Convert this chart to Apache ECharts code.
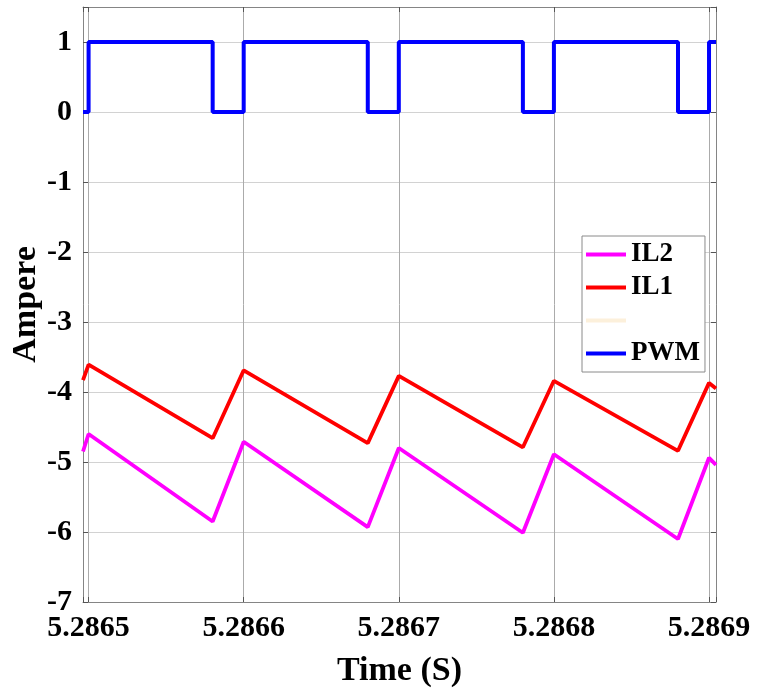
<!DOCTYPE html>
<html>
<head>
<meta charset="utf-8">
<script src="https://cdn.jsdelivr.net/npm/echarts@6/dist/echarts.min.js"></script>
<style>html,body{margin:0;padding:0;background:#fff}#c{width:757px;height:693px}</style>
</head>
<body>
<div id="c"></div>
<script>
// Time (s) at each corner of the waveforms
var timeS = [5.2864964, 5.2865, 5.28658, 5.2866, 5.28668, 5.2867, 5.28678, 5.2868, 5.28688, 5.2869, 5.2869045];
var il1 = [-3.83, -3.61, -4.66, -3.69, -4.73, -3.77, -4.79, -3.84, -4.84, -3.87, -3.95];
var il2 = [-4.85, -4.60, -5.85, -4.71, -5.93, -4.80, -6.01, -4.89, -6.10, -4.94, -5.04];
var pwm = [0, 1, 0, 1, 0, 1, 0, 1, 0, 1, 1];
var xMin = 5.2864964, xMax = 5.2869045;
var yMin = -7, yMax = 1.5, yStep = 1;
var seriesNames = ['IL2', 'IL1', ' ', 'PWM'];

function pairs(xs, ys) { return xs.map(function (x, i) { return [x, ys[i]]; }); }

var FONT = "'Liberation Serif','Times New Roman',serif";
var chart = echarts.init(document.getElementById('c'), null, {renderer: 'canvas'});
var axisCol = '#858585';
chart.setOption({
  animation: false,
  backgroundColor: '#fff',
  grid: {left: 83, right: 41, top: 7, bottom: 91, containLabel: false, outerBoundsMode: 'none'},
  legend: {
    orient: 'vertical', left: 582, top: 236,
    padding: [5, 5, 5, 4], itemGap: 6,
    backgroundColor: '#fff', borderColor: '#8a8a8a', borderWidth: 1, borderRadius: 0,
    itemWidth: 40, itemHeight: 4, icon: 'rect',
    textStyle: {fontFamily: FONT, fontWeight: 'bold', fontSize: 27, color: '#000'},
    data: [
      {name: 'IL2'}, {name: 'IL1'},
      {name: ' ', itemStyle: {color: 'rgba(250,228,190,0.55)'}},
      {name: 'PWM'}
    ]
  },
  xAxis: [{
    type: 'value', min: xMin, max: xMax, splitNumber: 4,
    name: 'Time (S)', nameLocation: 'middle', nameGap: 52, nameMoveOverlap: false,
    nameTextStyle: {fontFamily: FONT, fontWeight: 'bold', fontSize: 34, color: '#000'},
    axisLine: {show: true, onZero: false, lineStyle: {color: axisCol, width: 1}},
    axisTick: {show: true, inside: true, length: 5, lineStyle: {color: '#555'}},
    axisLabel: {
      margin: 11, fontFamily: FONT, fontWeight: 'bold', fontSize: 30, color: '#000',
      formatter: function (v) { var k = v * 1e4; return Math.abs(k - Math.round(k)) < 1e-3 ? v.toFixed(4) : ''; }
    },
    splitLine: {show: true, lineStyle: {color: '#ababab', width: 1}}
  }, {
    type: 'value', min: xMin, max: xMax, splitNumber: 4, position: 'top',
    axisLine: {show: true, onZero: false, lineStyle: {color: axisCol, width: 1}},
    axisTick: {show: true, inside: true, length: 5, lineStyle: {color: '#555'}},
    axisLabel: {show: false}, splitLine: {show: false}
  }],
  yAxis: [{
    type: 'value', min: yMin, max: yMax, interval: yStep,
    name: 'Ampere', nameLocation: 'middle', nameGap: 40, nameRotate: 90, nameMoveOverlap: false,
    nameTextStyle: {fontFamily: FONT, fontWeight: 'bold', fontSize: 34, color: '#000'},
    axisLine: {show: true, onZero: false, lineStyle: {color: axisCol, width: 1}},
    axisTick: {show: true, inside: true, length: 5, lineStyle: {color: '#555'}},
    axisLabel: {
      margin: 11, fontFamily: FONT, fontWeight: 'bold', fontSize: 30, color: '#000',
      formatter: function (v) { return Math.abs(v - Math.round(v)) < 1e-6 ? String(Math.round(v)) : ''; }
    },
    splitLine: {show: true, lineStyle: {color: '#d2d2d2', width: 1}}
  }, {
    type: 'value', min: yMin, max: yMax, interval: yStep, position: 'right',
    axisLine: {show: true, onZero: false, lineStyle: {color: axisCol, width: 1}},
    axisTick: {show: true, inside: true, length: 5, lineStyle: {color: '#555'}},
    axisLabel: {show: false}, splitLine: {show: false}
  }],
  series: [
    {name: seriesNames[0], type: 'line', data: pairs(timeS, il2), showSymbol: false,
     lineStyle: {color: '#ff00ff', width: 3.8}, itemStyle: {color: '#ff00ff'}, z: 3},
    {name: seriesNames[1], type: 'line', data: pairs(timeS, il1), showSymbol: false,
     lineStyle: {color: '#ff0000', width: 3.8}, itemStyle: {color: '#ff0000'}, z: 3},
    {name: seriesNames[2], type: 'line', data: [], showSymbol: false,
     lineStyle: {color: '#fbe6c4', width: 1}, itemStyle: {color: '#fbe6c4'}},
    {name: seriesNames[3], type: 'line', step: 'end', data: pairs(timeS, pwm), showSymbol: false,
     lineStyle: {color: '#0000ff', width: 4}, itemStyle: {color: '#0000ff'}, z: 4}
  ]
});
</script>
</body>
</html>
